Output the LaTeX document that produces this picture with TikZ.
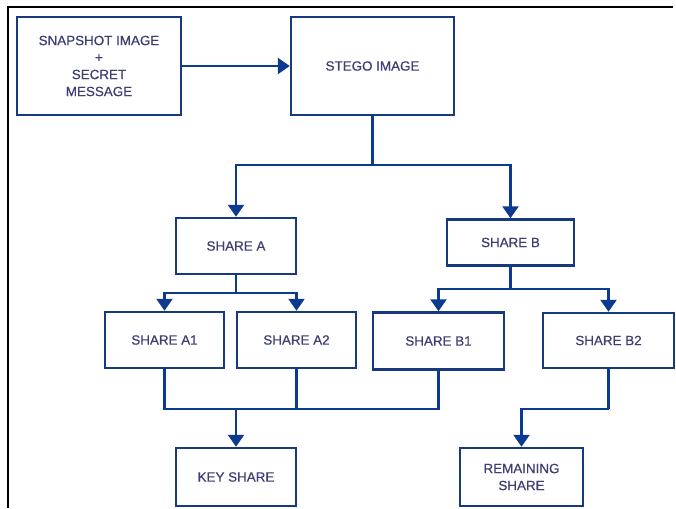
\documentclass[tikz,border=0pt]{standalone}
\usepackage{fontspec}
\setmainfont{Liberation Sans}
\newfontfamily\lblfont{Liberation Sans}[FakeBold=0.7]
\usetikzlibrary{arrows.meta}
\definecolor{boxc}{RGB}{22,58,125}
\definecolor{linec}{RGB}{12,58,145}
\definecolor{txtc}{RGB}{62,64,115}
\tikzset{
  box/.style={draw=boxc, line width=2.5pt, rectangle, align=center, text=txtc,
    font=\lblfont\fontsize{13.4}{17}\selectfont, inner sep=0pt},
  conn/.style={draw=linec, line width=2.5pt},
  arr/.style={conn, -{Triangle[width=16pt,length=12pt]}},
}
\begin{document}
\begin{tikzpicture}[x=1pt,y=-1pt]
\useasboundingbox (0,0) rectangle (676,508);
\draw[black, line width=1.4pt] (8,508) -- (8,7) -- (673,7);

\node[box, minimum width=164pt, minimum height=98pt] (snap) at (99,66) {SNAPSHOT IMAGE\\+\\SECRET\\MESSAGE};
\node[box, minimum width=163pt, minimum height=98pt] (stego) at (372.5,66) {STEGO IMAGE};
\node[box, minimum width=120pt, minimum height=56pt] (sa) at (236,246) {SHARE A};
\node[box, minimum width=127pt, minimum height=46pt] (sb) at (510.5,242.5) {SHARE B};
\node[box, minimum width=119pt, minimum height=56pt] (a1) at (164.5,340) {SHARE A1};
\node[box, minimum width=119pt, minimum height=56pt] (a2) at (296.5,340) {SHARE A2};
\node[box, minimum width=131pt, minimum height=57pt] (b1) at (438.5,341) {SHARE B1};
\node[box, minimum width=131pt, minimum height=55pt] (b2) at (608.5,340.5) {SHARE B2};
\node[box, minimum width=120pt, minimum height=58pt] (key) at (236,477) {KEY SHARE};
\node[box, minimum width=123pt, minimum height=58pt] (rem) at (521.5,477) {REMAINING\\SHARE};

\draw[arr] (snap.east) -- (stego.west);

\coordinate (s1) at (372.5,165);
\draw[conn] (stego.south) -- (s1);
\draw[arr] (s1) -| (sa.north);
\draw[arr] (s1) -| (sb.north);

\coordinate (s2) at (236,293);
\draw[conn] (sa.south) -- (s2);
\draw[arr] (s2) -| (a1.north);
\draw[arr] (s2) -| (a2.north);

\coordinate (s3) at (510.5,289);
\draw[conn] (sb.south) -- (s3);
\draw[arr] (s3) -| (b1.north);
\draw[arr] (s3) -| (b2.north);

\coordinate (j1) at (164.5,409);
\coordinate (j2) at (236,409);
\draw[conn] (a1.south) -- (j1) -| (b1.south);
\draw[conn] (a2.south) -- (a2.south |- j1);
\draw[arr] (j2) -- (key.north);

\coordinate (j3) at (608.5,409);
\draw[conn] (b2.south) -- (j3);
\draw[arr] (j3) -| (rem.north);
\end{tikzpicture}
\end{document}
